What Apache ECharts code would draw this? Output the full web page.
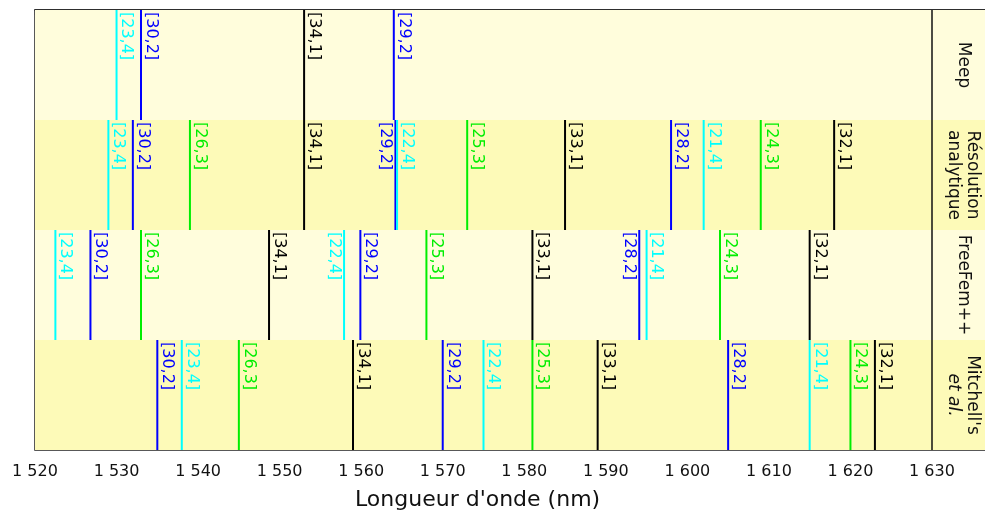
<!DOCTYPE html>
<html>
<head>
<meta charset="utf-8">
<script src="https://cdn.jsdelivr.net/npm/echarts@6/dist/echarts.min.js"></script>
<style>
  html, body { margin: 0; padding: 0; background: #fff; }
  #main { width: 985px; height: 518px; }
</style>
</head>
<body>
<div id="main"></div>
<script>
// methods (one band each, top to bottom)
var methods = ['Meep', 'Résolution\nanalytique', 'FreeFem++', "Mitchell's\n{i|et al.}"];

// modes and resonance wavelengths (nm) per method
var meepModes = ['[23,4]', '[30,2]', '[34,1]', '[29,2]'];
var meepWl = [1530.0, 1533.0, 1553.0, 1564.0];

var analytiqueModes = ['[23,4]', '[30,2]', '[26,3]', '[34,1]', '[29,2]', '[22,4]', '[25,3]', '[33,1]', '[28,2]', '[21,4]', '[24,3]', '[32,1]'];
var analytiqueWl = [1529.0, 1532.0, 1539.0, 1553.0, 1564.2, 1564.4, 1573.0, 1585.0, 1598.0, 1602.0, 1609.0, 1618.0];

var freefemModes = ['[23,4]', '[30,2]', '[26,3]', '[34,1]', '[22,4]', '[29,2]', '[25,3]', '[33,1]', '[28,2]', '[21,4]', '[24,3]', '[32,1]'];
var freefemWl = [1522.5, 1526.8, 1533.0, 1548.7, 1557.9, 1559.9, 1568.0, 1581.0, 1594.1, 1595.0, 1604.0, 1615.0];

var mitchellModes = ['[30,2]', '[23,4]', '[26,3]', '[34,1]', '[29,2]', '[22,4]', '[25,3]', '[33,1]', '[28,2]', '[21,4]', '[24,3]', '[32,1]'];
var mitchellWl = [1535.0, 1538.0, 1545.0, 1559.0, 1570.0, 1575.0, 1581.0, 1589.0, 1605.0, 1615.0, 1620.0, 1623.0];

var xMin = 1520, xMax = 1636.5, xSplit = 1630;
var methodLabelX = 1633.8;

// colour by radial order (second index of the mode)
var orderColors = { '1': '#000000', '2': '#0000ff', '3': '#00ee00', '4': '#00ffff' };
var bandColors = ['#fffddc', '#fdfab8'];

var bands = [
  [meepModes, meepWl],
  [analytiqueModes, analytiqueWl],
  [freefemModes, freefemWl],
  [mitchellModes, mitchellWl]
];

// [wavelength, band, mode, labelOnLeft]
var lineData = [];
bands.forEach(function (b, bi) {
  var modes = b[0], wl = b[1];
  for (var k = 0; k < wl.length; k++) {
    var next = wl[k + 1];
    var left = next !== undefined && next - wl[k] < 2.5;
    lineData.push([wl[k], bi, modes[k], left ? 1 : 0]);
  }
});

function fmt(v) {
  if (v % 10 !== 0) return '';
  var s = String(v);
  return s.slice(0, s.length - 3) + ' ' + s.slice(-3);
}

var option = {
  animation: false,
  grid: {
    left: 35, right: 0, top: 10, bottom: 68,
    show: true, borderColor: '#222', borderWidth: 1.5, backgroundColor: 'transparent'
  },
  xAxis: {
    type: 'value',
    min: xMin,
    max: xMax,
    interval: 10,
    axisLine: { show: true, lineStyle: { color: '#222', width: 1.5 } },
    axisTick: { show: true, length: 5, lineStyle: { color: '#222', width: 1.2 } },
    minorTick: { show: true, splitNumber: 2, length: 3, lineStyle: { color: '#222' } },
    splitLine: { show: false },
    axisLabel: {
      formatter: fmt, showMaxLabel: false,
      color: '#111', fontFamily: 'DejaVu Sans', fontSize: 16, margin: 14
    }
  },
  yAxis: {
    type: 'value', min: 0, max: 4, inverse: true,
    show: false
  },
  graphic: [{
    type: 'text', left: 481 - 126, top: 489,
    style: { text: "Longueur d'onde (nm)", fontFamily: 'DejaVu Sans', fontSize: 22, fill: '#111' }
  }],
  series: [
    {
      type: 'custom',
      name: 'bands',
      silent: true,
      data: methods.map(function (m, i) { return [i]; }),
      renderItem: function (params, api) {
        var i = api.value(0);
        var p0 = api.coord([xMin, i]);
        var p1 = api.coord([xMax, i + 1]);
        return {
          type: 'rect',
          shape: { x: p0[0], y: p0[1], width: p1[0] - p0[0], height: p1[1] - p0[1] },
          style: { fill: bandColors[i % 2] }
        };
      },
      z: 1
    },
    {
      type: 'custom',
      name: 'modes',
      silent: true,
      encode: { x: 0, y: 1 },
      data: lineData,
      renderItem: function (params, api) {
        var wl = api.value(0);
        var bi = api.value(1);
        var mode = lineData[params.dataIndex][2];
        var left = lineData[params.dataIndex][3];
        var color = orderColors[mode.charAt(4)];
        var top = api.coord([wl, bi]);
        var bot = api.coord([wl, bi + 1]);
        return {
          type: 'group',
          children: [
            {
              type: 'line',
              shape: { x1: top[0], y1: top[1], x2: bot[0], y2: bot[1] },
              style: { stroke: color, lineWidth: 2 }
            },
            {
              type: 'text',
              x: top[0] + (left ? -2 : 2),
              y: top[1] + 2,
              rotation: -Math.PI / 2,
              style: {
                text: mode,
                fill: color,
                fontFamily: 'DejaVu Sans',
                fontSize: 16,
                align: 'left',
                verticalAlign: left ? 'top' : 'bottom'
              }
            }
          ]
        };
      },
      z: 3,
      markLine: {
        silent: true,
        symbol: ['none', 'none'],
        label: { show: false },
        lineStyle: { color: '#111', width: 1.5, type: 'solid' },
        data: [{ xAxis: xSplit }]
      }
    },
    {
      type: 'custom',
      name: 'methods',
      silent: true,
      data: methods.map(function (m, i) { return [methodLabelX, i + 0.5]; }),
      renderItem: function (params, api) {
        var p = api.coord([api.value(0), api.value(1)]);
        return {
          type: 'text',
          x: p[0],
          y: p[1],
          rotation: -Math.PI / 2,
          style: {
            text: methods[params.dataIndex],
            fill: '#111',
            fontFamily: 'DejaVu Sans',
            fontSize: 17,
            lineHeight: 19,
            align: 'center',
            verticalAlign: 'middle',
            rich: {
              i: { fontStyle: 'italic', fontFamily: 'DejaVu Sans', fontSize: 17, fill: '#111', lineHeight: 19 }
            }
          }
        };
      },
      z: 4
    }
  ]
};

var chart = echarts.init(document.getElementById('main'));
chart.setOption(option);
</script>
</body>
</html>
